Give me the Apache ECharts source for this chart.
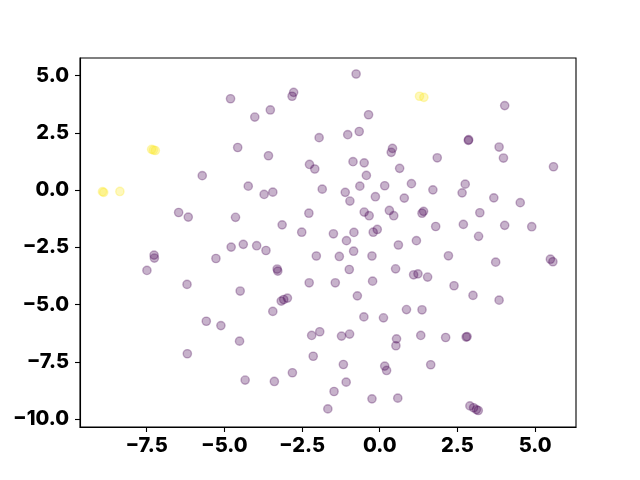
<!DOCTYPE html>
<html>
<head>
<meta charset="utf-8">
<script src="https://cdn.jsdelivr.net/npm/echarts@6/dist/echarts.min.js"></script>
<style>
  html, body { margin: 0; padding: 0; background: #fff; }
  #chart { width: 640px; height: 480px; }
</style>
</head>
<body>
<div id="chart"></div>
<script>
// class 0 (dark purple) points, [x, y]
const groupA = [
  [-5.71, 0.63], [-6.47, -0.98], [-6.16, -1.18], [-7.26, -2.84], [-7.25, -2.97],
  [-7.49, -3.51], [-5.27, -2.99], [-6.20, -4.12], [-5.58, -5.73], [-5.11, -5.92],
  [-6.19, -7.15], [-0.76, 5.07], [-4.80, 3.99], [-2.77, 4.27], [-2.82, 4.10],
  [-4.02, 3.19], [-3.52, 3.50], [-0.36, 3.29], [-1.95, 2.29], [-1.03, 2.42],
  [-0.66, 2.56], [-4.57, 1.86], [-3.58, 1.50], [0.41, 1.82], [0.37, 1.65],
  [-2.26, 1.12], [-2.09, 0.92], [-0.86, 1.24], [-0.50, 1.19], [0.64, 0.95],
  [-0.43, 0.64], [-4.23, 0.17], [-3.72, -0.19], [-3.44, -0.09], [-1.85, 0.04],
  [-1.11, -0.10], [-0.96, -0.48], [-0.64, 0.17], [0.16, 0.19], [-0.14, -0.29],
  [1.02, 0.28], [0.79, -0.35], [-4.64, -1.19], [-2.28, -1.01], [-0.50, -0.96],
  [-0.34, -1.12], [0.31, -0.89], [0.45, -1.12], [1.41, -0.93], [1.36, -1.01],
  [-3.14, -1.52], [-2.51, -1.84], [-1.49, -1.91], [-0.83, -1.85], [-1.07, -2.21],
  [-0.21, -1.84], [-0.08, -1.72], [0.60, -2.40], [1.18, -2.21], [-4.78, -2.49],
  [-4.39, -2.37], [-3.96, -2.43], [-3.66, -2.64], [-2.04, -2.88], [-1.30, -2.90],
  [-0.84, -2.67], [-0.25, -2.88], [-3.30, -3.45], [-3.28, -3.54], [-0.98, -3.47],
  [0.51, -3.44], [1.09, -3.70], [1.23, -3.66], [-4.49, -4.41], [-2.27, -4.05],
  [-1.43, -4.05], [-0.23, -3.98], [-0.72, -4.62], [-3.17, -4.85], [-3.09, -4.78],
  [-2.97, -4.72], [-3.44, -5.30], [-0.51, -5.54], [0.12, -5.58], [0.86, -5.22],
  [1.36, -5.23], [-4.51, -6.60], [-2.19, -6.35], [-1.93, -6.19], [-1.23, -6.38],
  [-0.97, -6.29], [0.54, -6.50], [0.52, -6.80], [1.32, -6.35], [-2.14, -7.26],
  [0.16, -7.69], [0.22, -7.88], [-1.17, -7.62], [-4.33, -8.30], [-3.39, -8.36],
  [-2.81, -7.98], [-1.08, -8.39], [-1.47, -8.80], [-0.25, -9.12], [0.58, -9.09],
  [-1.67, -9.56], [4.02, 3.69], [2.85, 2.17], [2.86, 2.20], [3.84, 1.88],
  [3.98, 1.40], [1.85, 1.41], [5.59, 1.02], [1.71, 0.01], [2.75, 0.26],
  [2.65, -0.12], [3.67, -0.34], [4.52, -0.55], [3.22, -0.99], [1.80, -1.59],
  [2.69, -1.50], [4.02, -1.54], [4.89, -1.60], [3.18, -2.02], [2.21, -2.87],
  [3.73, -3.15], [5.49, -3.02], [5.57, -3.13], [1.54, -3.80], [2.39, -4.18],
  [3.00, -4.60], [3.84, -4.81], [2.12, -6.44], [2.78, -6.42], [2.81, -6.40],
  [1.64, -7.63], [2.90, -9.43], [3.02, -9.51], [3.11, -9.59], [3.17, -9.63]
]

// class 1 (yellow) points, [x, y]
const groupB = [
  [-8.92, -0.07], [-8.88, -0.10], [-8.36, -0.06],
  [-7.34, 1.78], [-7.28, 1.75], [-7.22, 1.73],
  [1.28, 4.10], [1.42, 4.05]
]

const xTicks = [-7.5, -5.0, -2.5, 0.0, 2.5, 5.0]
const yTicks = [-10.0, -7.5, -5.0, -2.5, 0.0, 2.5, 5.0]

const fmt = (v) => (v < 0 ? '\u2212' : '') + Math.abs(v).toFixed(1)

const labelStyle = {
  color: '#000',
  fontFamily: 'Inter',
  fontWeight: 800,
  fontSize: 20,
  formatter: fmt
}

const option = {
  animation: false,
  backgroundColor: '#fff',
  grid: {
    left: 80,
    right: 64,
    top: 58,
    bottom: 53,
    show: true,
    borderColor: '#000',
    borderWidth: 1.1
  },
  xAxis: {
    type: 'value',
    min: -9.643,
    max: 6.314,
    splitLine: { show: false },
    axisLine: { show: true, onZero: false, lineStyle: { color: '#000', width: 1.1 } },
    axisTick: { show: true, length: 5, customValues: xTicks, lineStyle: { color: '#000', width: 1.1 } },
    axisLabel: { ...labelStyle, margin: 9, customValues: xTicks }
  },
  yAxis: {
    type: 'value',
    min: -10.35,
    max: 5.77,
    splitLine: { show: false },
    axisLine: { show: true, onZero: false, lineStyle: { color: '#000', width: 1.1 } },
    axisTick: { show: true, length: 5, customValues: yTicks, lineStyle: { color: '#000', width: 1.1 } },
    axisLabel: { ...labelStyle, margin: 11, customValues: yTicks }
  },
  series: [
    {
      type: 'scatter',
      data: groupA,
      symbolSize: 8.3,
      itemStyle: { color: 'rgba(68,1,84,0.3)', borderColor: 'rgba(68,1,84,0.3)', borderWidth: 1.4, opacity: 1 }
    },
    {
      type: 'scatter',
      data: groupB,
      symbolSize: 8.3,
      itemStyle: { color: 'rgba(253,231,37,0.3)', borderColor: 'rgba(253,231,37,0.3)', borderWidth: 1.4, opacity: 1 }
    }
  ]
}

const chart = echarts.init(document.getElementById('chart'))
chart.setOption(option)
</script>
</body>
</html>
